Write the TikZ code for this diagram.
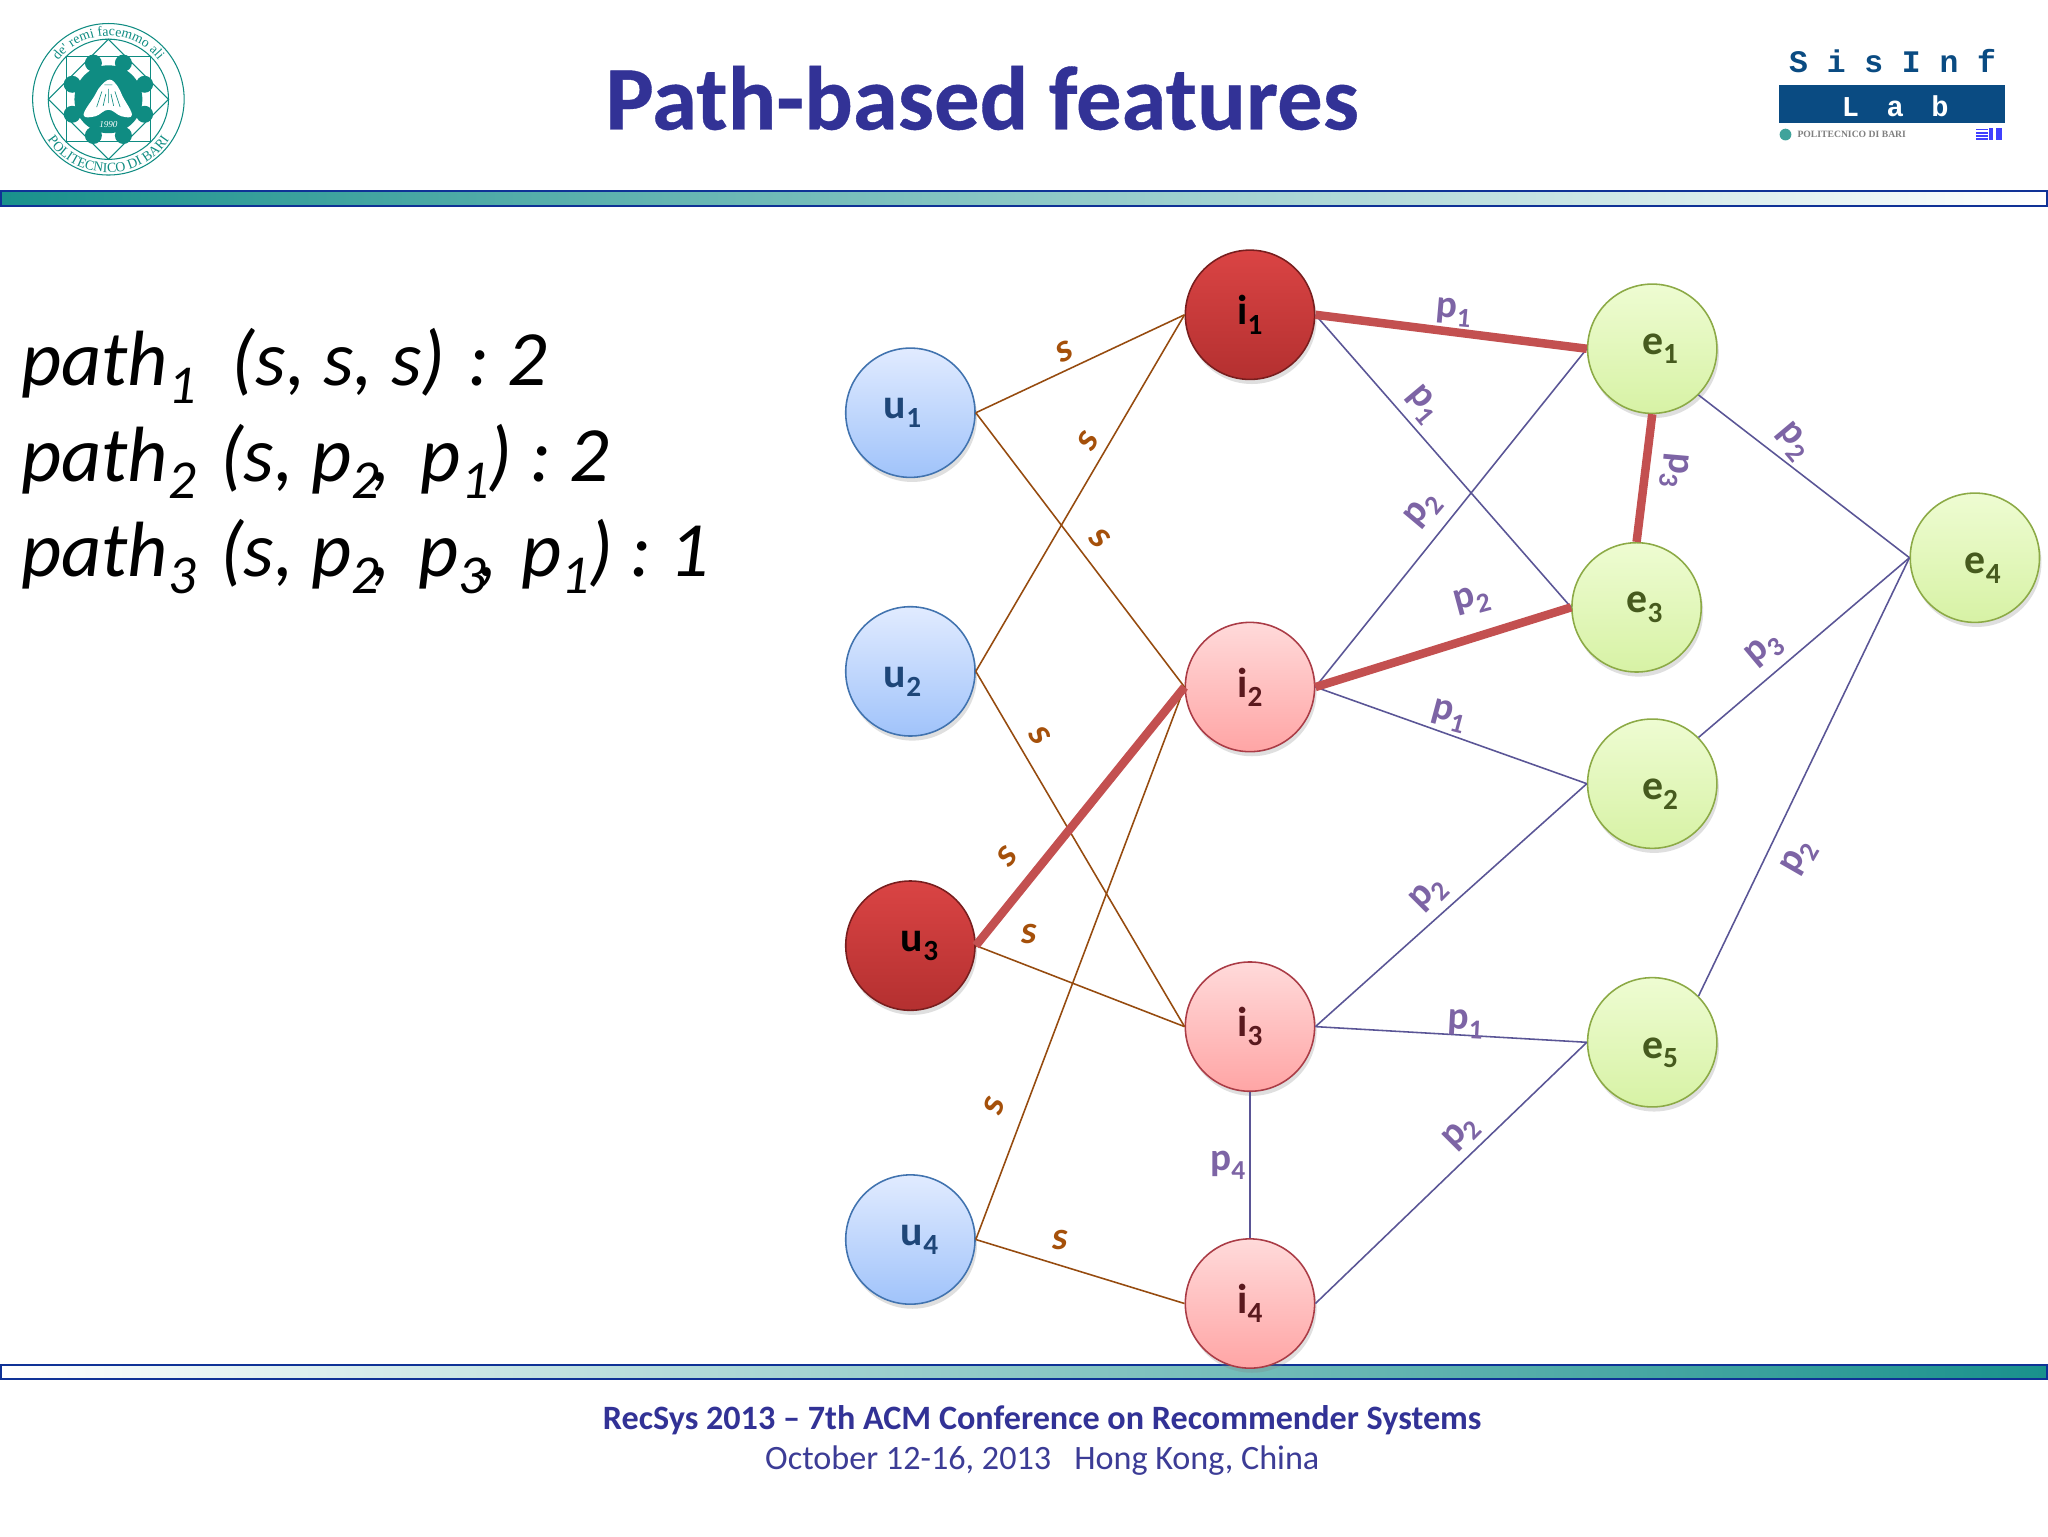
\documentclass[tikz,border=0pt]{standalone}
\usepackage{fontspec}
\setmainfont{Carlito}
\newfontfamily\monof{Liberation Mono}
\newfontfamily\seriff{Liberation Serif}
\usetikzlibrary{shadows,decorations.text}

\definecolor{titleblue}{RGB}{50,50,150}
\definecolor{footblue}{RGB}{60,60,150}
\definecolor{barblue}{RGB}{15,50,150}
\definecolor{teal1}{RGB}{25,145,140}
\definecolor{tealmid}{RGB}{172,205,200}
\definecolor{brownedge}{RGB}{150,75,15}
\definecolor{purpedge}{RGB}{90,85,150}
\definecolor{hotedge}{RGB}{195,80,80}
\definecolor{slabel}{RGB}{165,80,10}
\definecolor{plabel}{RGB}{125,100,165}
\definecolor{labblue}{RGB}{10,75,130}
\definecolor{seal}{RGB}{15,140,130}

\newcommand{\sbs}[1]{\raisebox{-0.22em}{\scalebox{.7}{#1}}}
\newcommand{\fs}[1]{\fontsize{#1}{#1}\selectfont}
\newcommand{\lowered}[1]{\raisebox{-8pt}[\height][\depth]{#1}}
\frenchspacing

\begin{document}
\begin{tikzpicture}[x=1pt,y=-1pt,
  ball/.style={circle,minimum size=99pt,inner sep=0pt,line width=1.2pt,font=\fs{32}\bfseries,
    drop shadow={shadow xshift=1.5pt,shadow yshift=-3.5pt,opacity=.25}},
  user/.style={ball,draw={rgb,255:red,65;green,115;blue,175},top color={rgb,255:red,225;green,235;blue,255},
    bottom color={rgb,255:red,160;green,195;blue,250},text={rgb,255:red,30;green,70;blue,120}},
  item/.style={ball,draw={rgb,255:red,170;green,60;blue,70},top color={rgb,255:red,255;green,218;blue,218},
    bottom color={rgb,255:red,255;green,165;blue,165},text={rgb,255:red,90;green,25;blue,30}},
  hot/.style={ball,draw={rgb,255:red,120;green,30;blue,30},top color={rgb,255:red,218;green,68;blue,68},
    bottom color={rgb,255:red,180;green,48;blue,48},text=black},
  ent/.style={ball,draw={rgb,255:red,140;green,170;blue,70},top color={rgb,255:red,238;green,252;blue,210},
    bottom color={rgb,255:red,215;green,242;blue,165},text={rgb,255:red,70;green,90;blue,30}},
  sedge/.style={draw=brownedge,line width=1.2pt},
  pedge/.style={draw=purpedge,line width=1.2pt},
  hotpath/.style={draw=hotedge,line width=6.5pt},
  slab/.style={text=slabel,font=\fs{30}\bfseries\itshape,inner sep=0pt},
  plab/.style={text=plabel,font=\fs{30}\bfseries,inner sep=0pt},
  pathtxt/.style={anchor=base west,inner sep=0pt,font=\fs{60}\itshape},
  bar/.style={draw=barblue,line width=1.5pt}
]
\useasboundingbox (0,0) rectangle (1568,1176);
\fill[white] (0,0) rectangle (1568,1176);

% Bars
\draw[bar,left color=teal1,middle color=tealmid,right color=white] (1,146) rectangle (1567,158);
\draw[bar,left color=white,middle color=tealmid,right color=teal1] (1,1045) rectangle (1567,1056);

% Title
\node[text=titleblue,font=\fs{69.5}\bfseries\addfontfeature{FakeBold=0.4},inner sep=0pt] (title) at (752,75) {Path-based features};

% Seal
\begin{scope}[shift={(83,76)},x=1pt,y=1pt]
  \draw[seal,line width=.8pt] (0,0) circle (58);
  \draw[seal,line width=.8pt] (0,0) circle (46);
  \draw[seal,line width=.8pt] (-32,-32) rectangle (32,33);
  \draw[seal,line width=.8pt] (0,46) -- (46,0) -- (0,-46) -- (-46,0) -- cycle;
  \fill[seal] (0,0) circle (26);
  \foreach \a in {22.5,67.5,...,360} \fill[seal] (\a:30) circle (6.5);
  \fill[white] plot[smooth cycle,tension=.7] coordinates {(1,15) (7,10) (11,2) (18,-12) (10,-13) (0,-8) (-10,-13) (-19,-12) (-11,2) (-6,10)};
  \draw[seal,line width=.5pt] (-5,6) -- (-9,-6) (5,6) -- (9,-6) (-3,11) -- (3,11) (0,8) -- (0,-3) (-2,4) -- (-4,-5) (2,4) -- (4,-5);
  \node[text=white,font=\seriff\itshape\fs{7},inner sep=0pt] (sealyear) at (0,-19) {1990};
  \path[decorate,decoration={text along path,text align=center,
    text={|\seriff\fs{10.5}\color{seal}|de' remi facemmo ali}}]
    (155:48.5) arc[start angle=155,end angle=25,radius=48.5];
  \path[decorate,decoration={text along path,text align=center,
    text={|\seriff\fs{10.5}\color{seal}|POLITECNICO DI BARI}}]
    (200:56) arc[start angle=200,end angle=340,radius=56];
\end{scope}

% SisInf logo
\node[font=\monof\bfseries\fs{24},text=labblue,inner sep=0pt] (sisinf) at (1449,47) {S i s I n f};
\fill[labblue] (1362,65) rectangle (1535,94);
\node[font=\monof\bfseries\fs{22},text=white,inner sep=0pt] (lab) at (1451,81) {L\hspace{21pt}a\hspace{21pt}b};
\fill[seal!80] (1367,103) circle (4.5);
\node[font=\seriff\bfseries\fs{7.4},text=gray,inner sep=0pt,anchor=west] (poliba) at (1376,103) {POLITECNICO DI BARI};
\foreach \yy in {98.5,101,103.5,106} \fill[blue!75] (1513,\yy) -- (1522,\yy) -- (1522,\yy+1.4) -- (1513,\yy+1.4) -- cycle;
\fill[blue!75] (1523,98) rectangle (1526,107.5);
\fill[blue!75] (1528,98) rectangle (1533,107.5);

% Path counts
\node[pathtxt] (path1) at (16,295.5) {path\sbs{1}\hspace{.23em} (s, s, s)\hspace{.07em} : 2};
\node[pathtxt] (path2) at (16,368.5) {path\sbs{2} \hspace{.08em}(s, p\sbs{2}\hspace{-.1em}, \hspace{.15em}p\sbs{1}) : 2};
\node[pathtxt] (path3) at (16,441.5) {path\sbs{3} \hspace{.08em}(s, p\sbs{2}\hspace{-.1em}, \hspace{.117em}p\sbs{3}\hspace{-.1em}, \hspace{.067em}p\sbs{1}) : 1};

% Nodes
\node[user] (u1) at (697,316) {\hspace*{-12pt}u\sbs{1}};
\node[user] (u2) at (697,514) {\hspace*{-12pt}\lowered{u\sbs{2}}};
\node[hot] (u3) at (697,724) {\hspace*{14pt}u\sbs{3}};
\node[user] (u4) at (697,949) {\hspace*{14pt}u\sbs{4}};

\node[hot] (i1) at (957,241) {i\sbs{1}};
\node[item] (i2) at (957,526) {i\sbs{2}};
\node[item] (i3) at (957,786) {i\sbs{3}};
\node[item] (i4) at (957,998) {i\sbs{4}};

\node[ent] (e1) at (1265,267) {\hspace*{12pt}e\sbs{1}};
\node[ent] (e3) at (1253,465) {\hspace*{12pt}e\sbs{3}};
\node[ent] (e2) at (1265,600) {\hspace*{12pt}\lowered{e\sbs{2}}};
\node[ent] (e5) at (1265,798) {\hspace*{12pt}\lowered{e\sbs{5}}};
\node[ent] (e4) at (1512,427) {\hspace*{12pt}\lowered{e\sbs{4}}};

% Edges s
\draw[sedge] (u1.east) -- (i1.west);
\draw[sedge] (u1.east) -- (i2.west);
\draw[sedge] (u2.east) -- (i1.west);
\draw[sedge] (u2.east) -- (i3.west);
\draw[sedge] (u3.east) -- (i3.west);
\draw[sedge] (u4.east) -- (i2.west);
\draw[sedge] (u4.east) -- (i4.west);
% Edges p
\draw[pedge] (i1.east) -- (e3.west);
\draw[pedge] (i2.east) -- (e1.west);
\draw[pedge] (i2.east) -- (e2.west);
\draw[pedge] (i3.east) -- (e2.west);
\draw[pedge] (i3.east) -- (e5.west);
\draw[pedge] (i3.south) -- (i4.north);
\draw[pedge] (i4.east) -- (e5.west);
\draw[pedge] (e1.south east) -- (e4.west);
\draw[pedge] (e2.north east) -- (e4.west);
\draw[pedge] (e5.north east) -- (e4.west);
% Highlighted paths
\draw[hotpath] (u3.east) -- (i2.west);
\draw[hotpath] (i1.east) -- (e1.west);
\draw[hotpath] (i2.east) -- (e3.west);
\draw[hotpath] (e1.south) -- (e3.north);

% s labels
\node[slab,rotate=25] (s1) at (815,269) {s};
\node[slab,rotate=60] (s2) at (833,338) {s};
\node[slab,rotate=-45] (s3) at (842,412) {s};
\node[slab,rotate=-55] (s4) at (796,563) {s};
\node[slab,rotate=50] (s5) at (771,656) {s};
\node[slab] (s6) at (788,715) {s};
\node[slab,rotate=70] (s7) at (761,847) {s};
\node[slab] (s8) at (812,949) {s};

% p labels
\node[plab,rotate=-5] (p1a) at (1113,239) {p\sbs{1}};
\node[plab,rotate=-50] (p1b) at (1089,310) {p\sbs{1}};
\node[plab,rotate=50] (p2a) at (1090,391) {p\sbs{2}};
\node[plab,rotate=15] (p2b) at (1127,460) {p\sbs{2}};
\node[plab,rotate=-95] (p3a) at (1282,360) {p\sbs{3}};
\node[plab,rotate=-50] (p2c) at (1373,338) {p\sbs{2}};
\node[plab,rotate=40] (p3b) at (1351,498) {p\sbs{3}};
\node[plab,rotate=-15] (p1c) at (1109,548) {p\sbs{1}};
\node[plab,rotate=45] (p2d) at (1094,685) {p\sbs{2}};
\node[plab,rotate=-3] (p1d) at (1122,784) {p\sbs{1}};
\node[plab,rotate=45] (p2e) at (1119,868) {p\sbs{2}};
\node[plab] (p4) at (940,892) {p\sbs{4}};
\node[plab,rotate=60] (p2f) at (1378,657) {p\sbs{2}};

% Footer
\node[text=titleblue,font=\fs{26.15}\bfseries,inner sep=0pt] (foot1) at (798,1087.5) {RecSys 2013 -- 7th ACM Conference on Recommender Systems};
\node[text=footblue,font=\fs{26.15},inner sep=0pt] (foot2) at (798,1118.5) {October 12-16, 2013\hspace{.45em} Hong Kong, China};
\end{tikzpicture}
\end{document}
